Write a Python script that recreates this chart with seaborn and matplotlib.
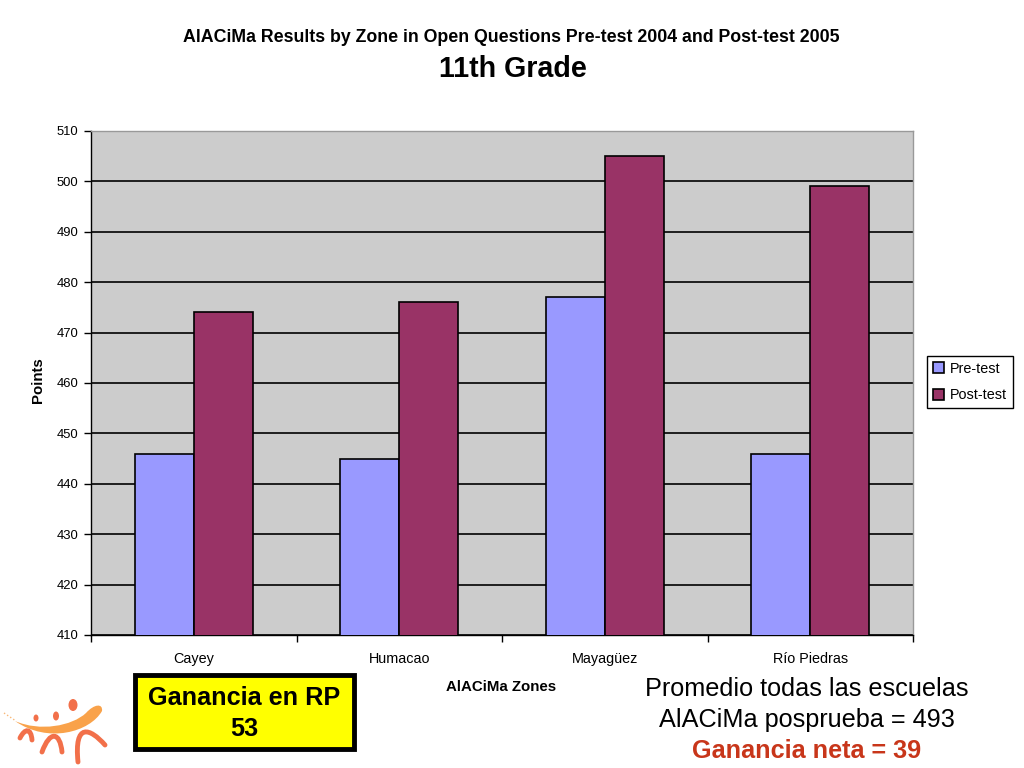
import matplotlib
matplotlib.use("Agg")
import matplotlib.pyplot as plt
from matplotlib.patches import PathPatch, Ellipse, Rectangle
from matplotlib.path import Path
import pandas as pd
import seaborn as sns

zones = ["Cayey", "Humacao", "Mayagüez", "Río Piedras"]
pre_test = [446, 445, 477, 446]
post_test = [474, 476, 505, 499]
y_ticks = [410, 420, 430, 440, 450, 460, 470, 480, 490, 500, 510]

W, H = 1024, 768

sns.set_theme(style="white")
plt.rcParams["font.family"] = ["Liberation Sans", "DejaVu Sans"]
plt.rcParams["text.color"] = "black"
plt.rcParams["axes.labelcolor"] = "black"
plt.rcParams["xtick.color"] = "black"
plt.rcParams["ytick.color"] = "black"


def px_axes(x0, y0, x1, y1):
    # axes rectangle given in image pixels, y counted from the top
    return [x0 / W, 1 - y1 / H, (x1 - x0) / W, (y1 - y0) / H]


def draw_logo(ov):
    swoosh = Path(
        [(15, 721), (40, 732), (72, 726), (86, 713),
         (94, 704), (103, 703), (102, 711),
         (90, 732), (48, 744), (15, 721)],
        [Path.MOVETO] + [Path.CURVE4] * 9,
    )
    ov.add_patch(PathPatch(swoosh, fc="#f9a24a", ec="none"))
    ov.plot([4, 16], [713, 721], color="#f9b878", lw=1, ls=":")
    for x, y, w, h in [(73, 705, 9, 12), (56, 716, 6, 9), (36, 718, 5, 7)]:
        ov.add_patch(Ellipse((x, y), w, h, fc="#f2704a", ec="none"))
    arcs = [
        [(20, 738), (25, 728), (31, 728), (32, 740)],
        [(42, 752), (50, 730), (60, 732), (62, 752)],
        [(78, 762), (74, 722), (90, 728), (105, 745)],
    ]
    for pts in arcs:
        arc = Path(pts, [Path.MOVETO, Path.CURVE4, Path.CURVE4, Path.CURVE4])
        ov.add_patch(PathPatch(arc, fc="none", ec="#f2704a", lw=3.5, capstyle="round"))


df = pd.DataFrame({
    "zone": zones * 2,
    "points": pre_test + post_test,
    "test": ["Pre-test"] * 4 + ["Post-test"] * 4,
})

fig = plt.figure(figsize=(W / 100, H / 100), dpi=100, facecolor="white")
ax = fig.add_axes(px_axes(91, 131, 913, 635))
ax.set_facecolor("#cccccc")

sns.barplot(
    data=df, x="zone", y="points", hue="test",
    palette={"Pre-test": "#9999ff", "Post-test": "#993366"},
    width=0.575, gap=0, edgecolor="black", linewidth=1.2, saturation=1,
    errorbar=None, ax=ax, zorder=3,
)

ax.set_xlim(-0.5, 3.5)
ax.set_ylim(410, 510)
ax.set_yticks(y_ticks)
ax.yaxis.grid(True, color="black", lw=1.2, zorder=1)
ax.set_axisbelow(True)
ax.tick_params(axis="y", labelsize=9.4, length=5, width=1, left=True, pad=4)
ax.set_xticks([0, 1, 2, 3])
ax.set_xticks([-0.5, 0.5, 1.5, 2.5, 3.5], minor=True)
ax.tick_params(axis="x", which="major", length=0, labelsize=10.4, pad=12)
ax.tick_params(axis="x", which="minor", length=5, width=1, bottom=True)
ax.set_xlabel("")
ax.set_ylabel("Points", fontsize=10.8, fontweight="bold")
ax.yaxis.set_label_coords((45 - 91) / (913 - 91), (635 - 380) / (635 - 131))

for side in ["left", "bottom"]:
    ax.spines[side].set_color("black")
    ax.spines[side].set_linewidth(1)
for side in ["top", "right"]:
    ax.spines[side].set_color("#999999")
    ax.spines[side].set_linewidth(1)

handles, labels = ax.get_legend_handles_labels()
ax.legend(
    handles, labels, loc="upper left",
    bbox_to_anchor=(927 / W, 1 - 356 / H), bbox_transform=fig.transFigure,
    fontsize=10.4, frameon=True, fancybox=False, framealpha=1, edgecolor="black",
    borderaxespad=0, borderpad=0.4, labelspacing=0.85, handlelength=0.8,
    handleheight=0.8, handletextpad=0.4,
)

# overlay in image pixels for the slide text, the box and the logo
ov = fig.add_axes([0, 0, 1, 1], zorder=5)
ov.set_xlim(0, W)
ov.set_ylim(H, 0)
ov.axis("off")
ov.patch.set_alpha(0)

ov.text(511, 37, "AlACiMa Results by Zone in Open Questions Pre-test 2004 and Post-test 2005",
        ha="center", va="center", fontsize=12.75, fontweight="bold")
ov.text(513, 69, "11th Grade", ha="center", va="center", fontsize=20.6, fontweight="bold")
ov.text(501, 687, "AlACiMa Zones", ha="center", va="center", fontsize=10.8, fontweight="bold")

ov.add_patch(Rectangle((135, 675), 219, 74, fc="#ffff00", ec="black", lw=3.5))
ov.text(244, 698, "Ganancia en RP", ha="center", va="center", fontsize=18.2, fontweight="bold")
ov.text(244, 729, "53", ha="center", va="center", fontsize=18.2, fontweight="bold")

ov.text(807, 689, "Promedio todas las escuelas", ha="center", va="center", fontsize=18.2)
ov.text(807, 720, "AlACiMa posprueba = 493", ha="center", va="center", fontsize=18.2)
ov.text(807, 751, "Ganancia neta = 39", ha="center", va="center", fontsize=18.2,
        fontweight="bold", color="#c8361a")

draw_logo(ov)

fig.savefig("out.png", dpi=100)
